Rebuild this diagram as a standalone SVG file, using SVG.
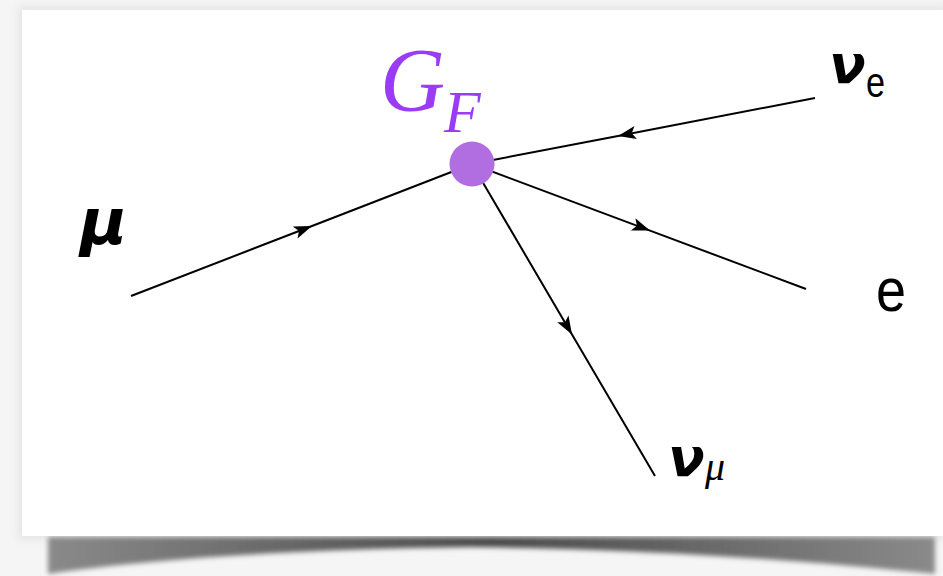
<svg xmlns="http://www.w3.org/2000/svg" width="943" height="576" viewBox="0 0 943 576">
  <defs>
    <filter id="blur4" x="-10%" y="-10%" width="120%" height="120%">
      <feGaussianBlur stdDeviation="4"/>
    </filter>
    <filter id="blur2" x="-10%" y="-50%" width="120%" height="200%">
      <feGaussianBlur stdDeviation="2.5"/>
    </filter>
    <linearGradient id="shadowGrad" x1="0" y1="0" x2="1" y2="0">
      <stop offset="0" stop-color="#8a8a8a"/>
      <stop offset="0.5" stop-color="#4a4a4a"/>
      <stop offset="1" stop-color="#8a8a8a"/>
    </linearGradient>
    <marker id="arrow" markerUnits="userSpaceOnUse" markerWidth="20" markerHeight="16" refX="0" refY="0" viewBox="-19 -8 20 16" orient="auto">
      <path d="M0,0 L-18,-6.5 L-14,0 L-18,6.5 z" fill="#000"/>
    </marker>
    <style>
      .line { fill: none; stroke: #000; stroke-width: 2; marker-mid: url(#arrow); }
      .sym { font-family: "DejaVu Sans", "Liberation Sans", sans-serif; font-weight: bold; font-style: italic; fill: #000; }
      .plain { font-family: "Liberation Sans", "DejaVu Sans", sans-serif; fill: #000; }
      .gf { font-family: "Liberation Serif", "DejaVu Serif", serif; font-style: italic; fill: #9a3cf5; }
    </style>
  </defs>

  <!-- background and card -->
  <rect x="0" y="0" width="943" height="576" fill="#f5f5f5"/>
  <rect x="18" y="6" width="930" height="534" fill="#e6e6e6" filter="url(#blur4)"/>
  <path d="M48,537 L935,537 L935,574 C800,560 650,549 470,547 C290,549 140,560 48,574 Z" fill="url(#shadowGrad)" filter="url(#blur2)"/>
  <rect x="22" y="10" width="921" height="526" fill="#ffffff"/>

  <!-- connectors -->
  <g id="connectors">
    <path class="line" d="M131,296 L312,226 L472,164"/>
    <path class="line" d="M815,98 L618,135.9 L472,164"/>
    <path class="line" d="M472,164 L650,230.6 L806,289"/>
    <path class="line" d="M472,164 L572,334.4 L655,476"/>
  </g>

  <!-- vertex -->
  <g id="vertex">
    <circle cx="472" cy="164" r="22.5" fill="#b06ee0"/>
    <text class="gf" x="380" y="111" font-size="90">G</text>
    <text class="gf" x="444" y="132" font-size="60">F</text>
  </g>

  <g id="muon">
    <text class="sym" x="80" y="244" font-size="64">μ</text>
  </g>

  <g id="nu-e">
    <text class="sym" x="829" y="83" font-size="54">ν</text>
    <text class="plain" x="866" y="97" font-size="42" textLength="19" lengthAdjust="spacingAndGlyphs">e</text>
  </g>

  <g id="electron">
    <text class="plain" x="876" y="311" font-size="62" textLength="30" lengthAdjust="spacingAndGlyphs">e</text>
  </g>

  <g id="nu-mu">
    <text class="sym" x="668" y="476" font-size="54">ν</text>
    <text x="705" y="480" font-size="40" font-family="Liberation Serif, DejaVu Serif, serif" font-style="italic" fill="#000">μ</text>
  </g>
</svg>
